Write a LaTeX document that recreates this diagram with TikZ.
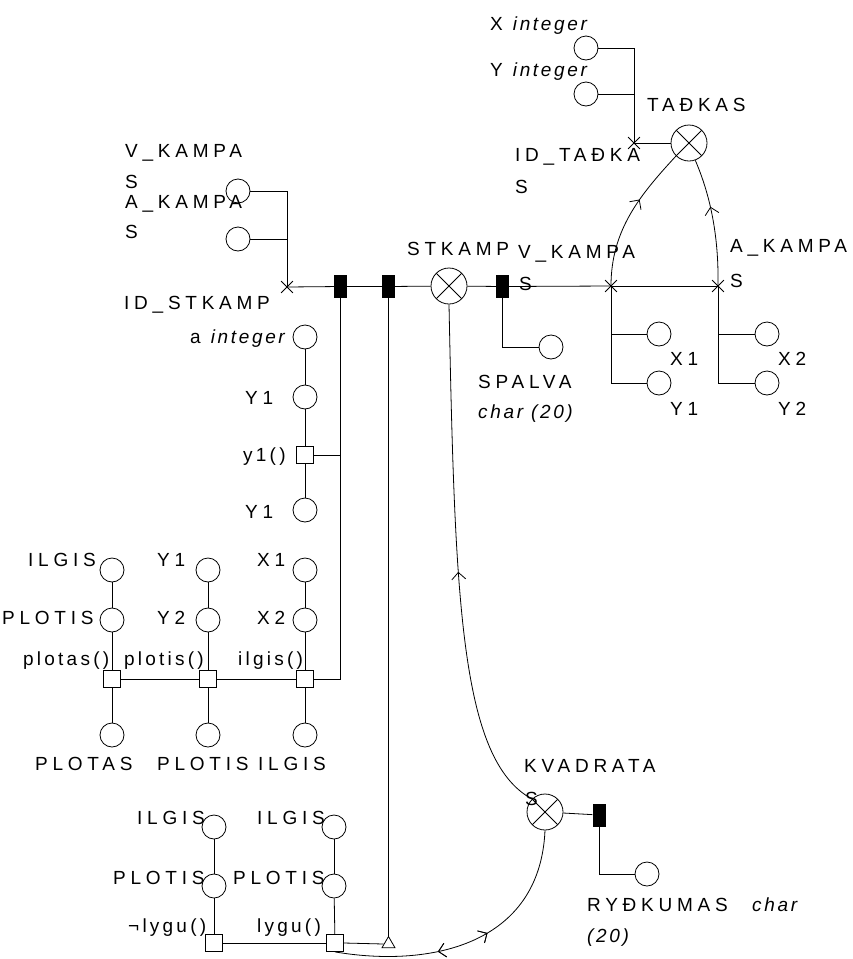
\documentclass[tikz,border=0pt]{standalone}
\usepackage{fontspec}
\setmainfont{Liberation Sans}
\newfontfamily\lab[LetterSpace=25]{Liberation Sans}
\newfontfamily\labl[LetterSpace=17]{Liberation Sans}
\newfontfamily\labit[LetterSpace=14]{Liberation Sans}
\usetikzlibrary{shapes.misc,shapes.geometric,arrows.meta,decorations.markings}
\tikzset{
  conn/.style={line width=0.8pt},
  attr/.style={circle, draw, line width=0.8pt, minimum size=24pt, inner sep=0pt},
  meth/.style={rectangle, draw, line width=0.8pt, minimum size=17pt, inner sep=0pt},
  ent/.style={circle, draw, line width=0.8pt, minimum size=36pt, inner sep=0pt,
    path picture={\draw[line width=0.8pt] (path picture bounding box.north west) -- (path picture bounding box.south east)
      (path picture bounding box.north east) -- (path picture bounding box.south west);}},
  keybox/.style={rectangle, fill=black, minimum width=13pt, minimum height=23pt, inner sep=0pt},
  xmark/.style={cross out, draw, line width=0.8pt, minimum size=11pt, inner sep=0pt},
  trg/.style={regular polygon, regular polygon sides=3, draw, line width=0.8pt, minimum size=15pt, inner sep=0pt},
  lbl/.style={inner sep=0pt, anchor=base west, font=\lab\fontsize{19}{22}\selectfont},
  mlbl/.style={inner sep=0pt, anchor=base west, font=\labl\fontsize{19}{22}\selectfont},
  itl/.style={inner sep=0pt, anchor=base west, font=\labit\itshape\fontsize{19}{22}\selectfont},
  fwd/.style={postaction={decorate}, decoration={markings, mark=at position #1 with {\arrow{Straight Barb[length=7pt,width=14pt,line width=0.8pt]}}}},
  bwd/.style={postaction={decorate}, decoration={markings, mark=at position #1 with {\arrowreversed{Straight Barb[length=7pt,width=14pt,line width=0.8pt]}}}},
}
\begin{document}
\begin{tikzpicture}[x=1pt,y=-1pt]
\useasboundingbox (0,0) rectangle (853,959);
% entities
\node[ent] (TD) at (689,143) {};
\node[ent] (ST) at (449,286) {};
\node[ent] (KV) at (545,812) {};
% key boxes
\node[keybox] (r1) at (340.5,286.5) {};
\node[keybox] (r2) at (388.5,286.5) {};
\node[keybox] (r3) at (502.5,286.5) {};
\node[keybox] (r4) at (599,815) {};
% cross marks
\node[xmark] (xTD) at (634,143) {};
\node[xmark] (xST) at (287,287) {};
\node[xmark] (xVK) at (611,286) {};
\node[xmark] (xAK) at (718,286) {};
% triangle
\node[trg] (tri) at (388.5,944) {};
% attribute circles
\node[attr] (cX) at (586,48) {};
\node[attr] (cY) at (586,94) {};
\node[attr] (cVK) at (238,191) {};
\node[attr] (cAK) at (238,239) {};
\node[attr] (ca) at (305,337) {};
\node[attr] (cYa) at (305,397) {};
\node[attr] (cYb) at (305,510) {};
\node[attr] (cIL1) at (112,570) {};
\node[attr] (cY1g) at (208,570) {};
\node[attr] (cX1g) at (305,570) {};
\node[attr] (cPL1) at (112,620) {};
\node[attr] (cY2g) at (208,620) {};
\node[attr] (cX2g) at (305,620) {};
\node[attr] (cPA) at (112,735) {};
\node[attr] (cPO) at (208,735) {};
\node[attr] (cIL) at (305,735) {};
\node[attr] (cIL4) at (214,827) {};
\node[attr] (cIL5) at (334,827) {};
\node[attr] (cPL4) at (214,886) {};
\node[attr] (cPL5) at (334,886) {};
\node[attr] (cSP) at (551,347) {};
\node[attr] (cX1) at (659,334) {};
\node[attr] (cY1) at (659,383) {};
\node[attr] (cX2) at (767,334) {};
\node[attr] (cY2) at (767,383) {};
\node[attr] (cRY) at (647,874) {};
% method squares
\node[meth] (sqY1) at (305,455) {};
\node[meth] (sqPa) at (112,679) {};
\node[meth] (sqPo) at (208,679) {};
\node[meth] (sqIl) at (305,679) {};
\node[meth] (sqNL) at (214,943) {};
\node[meth] (sqL) at (335,943) {};
% connectors
\draw[conn] (cX.east) -| (xTD.center);
\draw[conn] (cY.east) -| (xTD.center);
\draw[conn] (TD) -- (xTD.center);
\draw[conn] (cVK.east) -| (xST.center);
\draw[conn] (cAK.east) -| (xST.center);
\draw[conn] (xST.center) -- (r1);
\draw[conn] (r1) -- (r2);
\draw[conn] (r2) -- (ST);
\draw[conn] (ST) -- (r3);
\draw[conn] (r3) -- (xVK.center);
\draw[conn] (xVK.center) -- (xAK.center);
\draw[conn] (r1.south) |- (sqIl.east);
\draw[conn] (sqY1.east) -- (sqY1.east -| r1.south);
\draw[conn] (r2.south) -- (tri.north);
\draw[conn] (ca) -- (cYa);
\draw[conn] (cYa) -- (sqY1);
\draw[conn] (sqY1) -- (cYb);
\draw[conn] (cIL1) -- (cPL1);
\draw[conn] (cPL1) -- (sqPa);
\draw[conn] (sqPa) -- (cPA);
\draw[conn] (cY1g) -- (cY2g);
\draw[conn] (cY2g) -- (sqPo);
\draw[conn] (sqPo) -- (cPO);
\draw[conn] (cX1g) -- (cX2g);
\draw[conn] (cX2g) -- (sqIl);
\draw[conn] (sqIl) -- (cIL);
\draw[conn] (sqPa) -- (sqPo);
\draw[conn] (sqPo) -- (sqIl);
\draw[conn] (cIL4) -- (cPL4);
\draw[conn] (cPL4) -- (sqNL);
\draw[conn] (cIL5) -- (cPL5);
\draw[conn] (cPL5) -- (sqL);
\draw[conn] (sqNL) -- (sqL);
\draw[conn] (sqL.east) -- (tri.west);
\draw[conn] (r3.south) |- (cSP.west);
\draw[conn] (xVK.center) |- (cX1.west);
\draw[conn] (xVK.center) |- (cY1.west);
\draw[conn] (xAK.center) |- (cX2.west);
\draw[conn] (xAK.center) |- (cY2.west);
\draw[conn] (KV) -- (r4);
\draw[conn] (r4.south) |- (cRY.west);
% curved links
\draw[conn, fwd=0.62] (xVK.center) .. controls (611,230) and (640,195) .. (TD.south west);
\draw[conn, fwd=0.62] (xAK.center) .. controls (719,230) and (708,190) .. (TD.-70);
\draw[conn, bwd=0.52] (ST.south) .. controls (455,600) and (460,760) .. (KV.north west);
\draw[conn, bwd=0.37, fwd=0.56] (sqL.south) .. controls (430,968) and (540,945) .. (KV.south);
% labels
\node[lbl] (tXi) at (490,30) {X {\labit\itshape integer}};
\node[lbl] (tYi) at (490,76) {Y {\labit\itshape integer}};
\node[lbl] (tTD) at (647,111) {TAĐKAS};
\node[lbl] (tIDTD1) at (515,161) {ID\_TAĐKA};
\node[lbl] (tIDTD2) at (515,193) {S};
\node[lbl] (tVKr1) at (518,258) {V\_KAMPA};
\node[lbl] (tVKr2) at (519,290) {S};
\node[lbl] (tAKr1) at (730,252) {A\_KAMPA};
\node[lbl] (tAKr2) at (730,287) {S};
\node[lbl] (tST) at (407,255) {STKAMP};
\node[lbl] (tVKl1) at (125,157) {V\_KAMPA};
\node[lbl] (tVKl2) at (125,188.5) {S};
\node[lbl] (tAKl1) at (125,208) {A\_KAMPA};
\node[lbl] (tAKl2) at (125,238) {S};
\node[lbl] (tIDST) at (124,309) {ID\_STKAMP};
\node[lbl] (tA) at (190,343) {a {\labit\itshape integer}};
\node[lbl] (tY1a) at (245,404) {Y1};
\node[mlbl] (tY1m) at (243,461) {y1()};
\node[lbl] (tY1b) at (245,518) {Y1};
\node[lbl] (tIL1) at (28,566) {ILGIS};
\node[lbl] (tY1g) at (157,566) {Y1};
\node[lbl] (tX1g) at (257,566) {X1};
\node[lbl] (tPL1) at (2,624) {PLOTIS};
\node[lbl] (tY2g) at (157,624) {Y2};
\node[lbl] (tX2g) at (257,624) {X2};
\node[mlbl] (tPam) at (23,665) {plotas()};
\node[mlbl] (tPom) at (124,665) {plotis()};
\node[mlbl] (tIlm) at (238,665) {ilgis()};
\node[lbl] (tPA) at (35,770) {PLOTAS};
\node[lbl] (tPO) at (157,770) {PLOTIS};
\node[lbl] (tIL) at (258,770) {ILGIS};
\node[lbl] (tIL4) at (137,824) {ILGIS};
\node[lbl] (tIL5) at (257,824) {ILGIS};
\node[lbl] (tPL4) at (113,884) {PLOTIS};
\node[lbl] (tPL5) at (233,884) {PLOTIS};
\node[mlbl] (tNL) at (128,932) {¬lygu()};
\node[mlbl] (tL) at (257,932) {lygu()};
\node[lbl] (tSP) at (478,388) {SPALVA};
\node[itl] (tSPt) at (478,418) {char (20)};
\node[lbl] (tX1) at (670,365) {X1};
\node[lbl] (tY1) at (670,415) {Y1};
\node[lbl] (tX2) at (778,365) {X2};
\node[lbl] (tY2) at (778,415) {Y2};
\node[lbl] (tKV1) at (524,772) {KVADRATA};
\node[lbl] (tKV2) at (525,805) {S};
\node[lbl] (tRY) at (587,911) {RYĐKUMAS};
\node[itl] (tRYt) at (752,911) {char};
\node[itl] (tRYt2) at (587,942) {(20)};
\end{tikzpicture}
\end{document}
